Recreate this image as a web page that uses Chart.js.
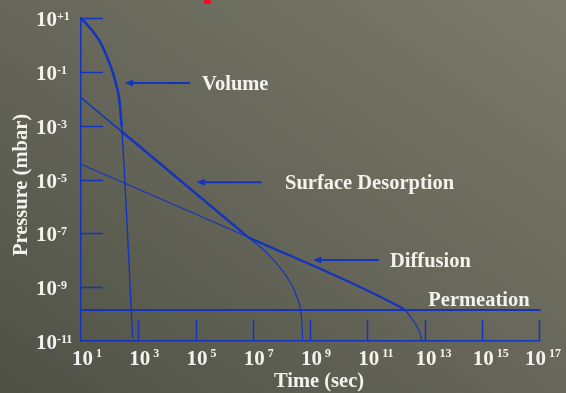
<!DOCTYPE html>
<html>
<head>
<meta charset="utf-8">
<script src="https://cdn.jsdelivr.net/npm/chart.js@4.4.1/dist/chart.umd.min.js"></script>
<style>
  html, body { margin:0; padding:0; width:566px; height:393px; overflow:hidden; }
  body { background: linear-gradient(35deg, #505146 0%, #66675a 50%, #7a7b6c 100%); }
  canvas { display:block; }
</style>
</head>
<body>
<canvas id="chart" width="566" height="393"></canvas>
<script>
// ticks (2 decades apart)
const xTicks = [1e1, 1e3, 1e5, 1e7, 1e9, 1e11, 1e13, 1e15, 1e17];
const xTickExp = ["1", "3", "5", "7", "9", "11", "13", "15", "17"];
const yTicks = [1e-11, 1e-9, 1e-7, 1e-5, 1e-3, 1e-1, 1e1];
const yTickExp = ["-11", "-9", "-7", "-5", "-3", "-1", "+1"];

// curves (time in s, pressure in mbar)
const volumeX = [10, 23.7, 46.1, 89.9, 154, 218, 264, 640];
const volumeY = [10, 3.58, 1.32, 0.275, 0.0498, 0.009, 9.1e-4, 1.3e-11];

const desorpX = [10, 251, 7.0e6, 3.16e7, 1.53e8, 3.43e8, 5.13e8, 5.56e8];
const desorpY = [1.1e-2, 6.3e-4, 7.1e-8, 1.86e-8, 2.45e-9, 4.5e-10, 6.0e-11, 1.1e-11];

const diffX = [10, 7.0e6, 1.19e12, 2.08e12, 4.66e12, 6.97e12, 7.98e12];
const diffY = [3.67e-5, 7.1e-8, 2.0e-10, 1.39e-10, 4.56e-11, 2.0e-11, 1.1e-11];

const permX = [10, 1.15e17];
const permY = [1.42e-10, 1.42e-10];

// labels + arrows (data coords)
const labelText = ["Volume", "Surface Desorption", "Diffusion", "Permeation"];
const labelX = [1.69e5, 1.34e8, 6.24e11, 1.36e13];
const labelY = [3.85e-2, 7.9e-6, 1.02e-8, 3.65e-10];
const arrowTipX = [344, 1.10e5, 1.30e9];
const arrowTailX = [6.43e4, 2.06e7, 2.57e11];
const arrowY = [3.85e-2, 7.9e-6, 1.02e-8];

const BLUE = "#1434bd";
const TEXT = "#f3f3ee";
const SERIF = '"Liberation Serif", "Times New Roman", serif';

const pts = (xs, ys) => xs.map((x, i) => ({ x, y: ys[i] }));

const overlay = {
  id: "overlay",
  beforeDatasetsDraw(chart){
    const { ctx, chartArea, scales: { x, y } } = chart;
    ctx.save();
    ctx.strokeStyle = BLUE;
    ctx.lineWidth = 1.5;
    ctx.beginPath();
    yTicks.slice(1).forEach(v => {
      const py = Math.round(y.getPixelForValue(v)) + 0.5;
      ctx.moveTo(chartArea.left, py);
      ctx.lineTo(chartArea.left + 22, py);
    });
    xTicks.slice(1).forEach(v => {
      const px = Math.round(x.getPixelForValue(v)) + 0.5;
      ctx.moveTo(px, chartArea.bottom);
      ctx.lineTo(px, chartArea.bottom - 21);
    });
    ctx.stroke();
    ctx.restore();
  },
  afterDraw(chart){
    const { ctx, chartArea, scales: { x, y } } = chart;
    ctx.save();
    ctx.fillStyle = TEXT;

    // y tick labels
    yTicks.forEach((v, i) => {
      const py = y.getPixelForValue(v);
      ctx.font = `bold 21px ${SERIF}`;
      ctx.textAlign = "right";
      ctx.fillText("10", 57, py + 8);
      ctx.font = `bold 12px ${SERIF}`;
      ctx.textAlign = "left";
      ctx.fillText(yTickExp[i], 57, py + 2);
    });

    // x tick labels
    xTicks.forEach((v, i) => {
      const px = x.getPixelForValue(v);
      ctx.font = `bold 21px ${SERIF}`;
      const w10 = ctx.measureText("10").width;
      ctx.font = `bold 12px ${SERIF}`;
      const wExp = ctx.measureText(xTickExp[i]).width;
      let left = px - 9;
      if (left + w10 + 3 + wExp > 561) left = 561 - w10 - 3 - wExp;
      ctx.textAlign = "left";
      ctx.font = `bold 21px ${SERIF}`;
      ctx.fillText("10", left, chartArea.bottom + 24);
      ctx.font = `bold 12px ${SERIF}`;
      ctx.fillText(xTickExp[i], left + w10 + 3, chartArea.bottom + 16);
    });

    // axis titles
    ctx.font = `bold 20.5px ${SERIF}`;
    ctx.textAlign = "center";
    ctx.fillText("Time (sec)", 319, 387);
    ctx.save();
    ctx.translate(27, 185);
    ctx.rotate(-Math.PI / 2);
    ctx.fillText("Pressure (mbar)", 0, 0);
    ctx.restore();

    // curve labels
    ctx.textAlign = "left";
    labelText.forEach((t, i) => {
      ctx.fillText(t, x.getPixelForValue(labelX[i]), y.getPixelForValue(labelY[i]) + 7);
    });

    // arrows
    ctx.strokeStyle = BLUE;
    ctx.fillStyle = BLUE;
    ctx.lineWidth = 2;
    arrowY.forEach((v, i) => {
      const py = y.getPixelForValue(v);
      const tip = x.getPixelForValue(arrowTipX[i]);
      const tail = x.getPixelForValue(arrowTailX[i]);
      ctx.beginPath();
      ctx.moveTo(tail, py);
      ctx.lineTo(tip + 5, py);
      ctx.stroke();
      ctx.beginPath();
      ctx.moveTo(tip, py);
      ctx.lineTo(tip + 8, py - 3.5);
      ctx.lineTo(tip + 8, py + 3.5);
      ctx.closePath();
      ctx.fill();
    });

    // bottom edge of the clipped red title
    ctx.fillStyle = "#e8102a";
    ctx.fillRect(204, 0, 7, 4);
    ctx.restore();
  }
};

new Chart(document.getElementById("chart"), {
  type: "line",
  data: {
    datasets: [
      {
        label: "Volume",
        data: pts(volumeX, volumeY),
        borderColor: BLUE,
        cubicInterpolationMode: "monotone",
        segment: { borderWidth: c => c.p0DataIndex < 6 ? 2.6 : 1.4 }
      },
      {
        label: "Surface Desorption",
        data: pts(desorpX, desorpY),
        borderColor: BLUE,
        cubicInterpolationMode: "monotone",
        segment: { borderWidth: c => c.p0DataIndex === 1 ? 2.5 : (c.p0DataIndex === 0 ? 1.5 : 1.2) }
      },
      {
        label: "Diffusion",
        data: pts(diffX, diffY),
        borderColor: BLUE,
        cubicInterpolationMode: "monotone",
        segment: { borderWidth: c => (c.p0DataIndex === 1 || c.p0DataIndex === 2) ? 2.3 : 1.1 }
      },
      {
        label: "Permeation",
        data: pts(permX, permY),
        borderColor: BLUE,
        borderWidth: 2
      }
    ]
  },
  options: {
    responsive: false,
    animation: false,
    devicePixelRatio: 1,
    layout: { padding: { left: 81, right: 27, top: 18, bottom: 52 } },
    elements: { point: { radius: 0 }, line: { borderWidth: 2 } },
    datasets: { line: { clip: false } },
    plugins: { legend: { display: false }, tooltip: { enabled: false } },
    scales: {
      x: {
        type: "logarithmic",
        min: 1e1,
        max: 1e17,
        afterBuildTicks: s => { s.ticks = xTicks.map(v => ({ value: v })); },
        ticks: { display: false },
        grid: { display: false, drawTicks: false },
        border: { display: true, color: BLUE, width: 1.5 }
      },
      y: {
        type: "logarithmic",
        min: 1e-11,
        max: 1e1,
        afterBuildTicks: s => { s.ticks = yTicks.map(v => ({ value: v })); },
        ticks: { display: false },
        grid: { display: false, drawTicks: false },
        border: { display: true, color: BLUE, width: 1.5 }
      }
    }
  },
  plugins: [overlay]
});
</script>
</body>
</html>
